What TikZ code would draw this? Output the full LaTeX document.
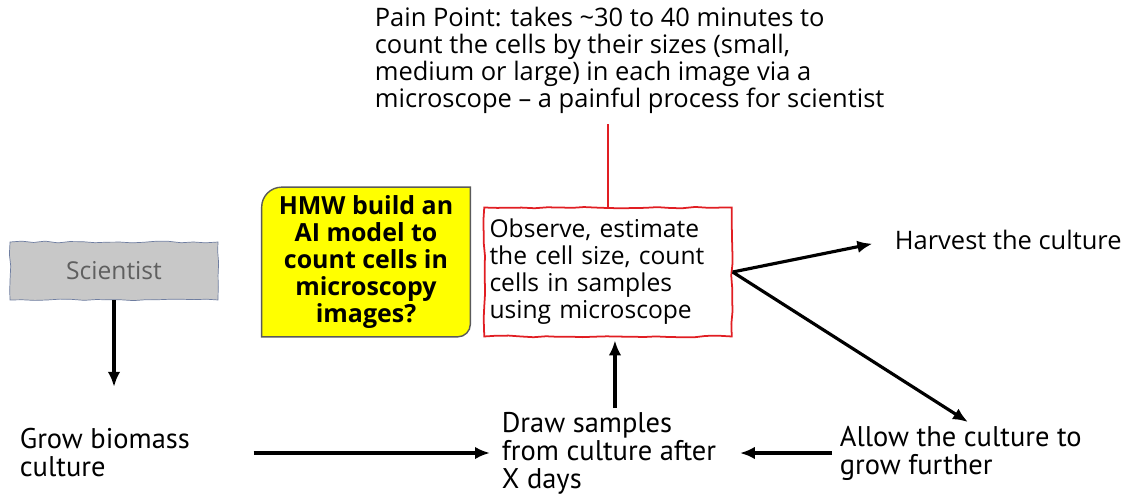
\documentclass[tikz,border=0pt]{standalone}
\usepackage{fontspec}
\setmainfont{Open Sans}
\newfontfamily\handfont{PT Sans}
\usetikzlibrary{arrows.meta,positioning,calc,backgrounds,decorations.pathmorphing}
\definecolor{sciblue}{RGB}{110,125,160}
\definecolor{scigray}{RGB}{200,200,200}
\definecolor{scitext}{RGB}{95,95,95}
\definecolor{painred}{RGB}{225,30,35}
\definecolor{hmwyellow}{RGB}{255,255,0}
\definecolor{hmwedge}{RGB}{90,90,90}
\tikzset{
  txt/.style={font=\fontsize{14.5}{15.4}\selectfont, align=left, inner sep=2pt},
  lowtxt/.style={font=\handfont\fontsize{16.2}{15.9}\selectfont, align=left, inner sep=2pt},
  wobbly/.style={decorate, decoration={random steps, segment length=7pt, amplitude=0.5pt}},
  parrow/.style={-{Latex[length=3mm,width=2.5mm]}, line width=1.8pt, black}
}
\pgfmathsetseed{7}
\begin{document}
\begin{tikzpicture}[x=0.02cm,y=-0.02cm]
        \useasboundingbox (0,0) rectangle (1126,500);
        \node[txt,anchor=north west] (pain) at (371,3) {Pain Point: takes \textasciitilde 30 to 40 minutes to\\count the cells by their sizes (small,\\medium or large) in each image via a\\microscope -- a painful process for scientist};
        \node[txt,font=\fontsize{14}{15.4}\selectfont,align=center,draw=sciblue,fill=scigray,text=scitext,minimum width=4.16cm,minimum height=1.16cm,wobbly] (sci) at (114,271) {Scientist};
        \node[txt,font=\bfseries\fontsize{14.2}{15.4}\selectfont,align=center,minimum width=4.16cm,minimum height=2.98cm] (hmw) at (366,262) {HMW build an\\AI model to\\count cells in\\microscopy\\images?};
        \node[txt,font=\fontsize{14}{15.4}\selectfont,draw=painred,line width=1pt,wobbly,text width=4.74cm,inner sep=3pt,minimum height=2.58cm] (obs) at (608,272) {Observe, estimate\\the cell size, count\\cells in samples\\using microscope};
        \node[txt,anchor=west] (harv) at (891,240) {Harvest the culture};
        \node[lowtxt,anchor=west] (grow) at (16,453) {Grow biomass\\culture};
        \node[lowtxt,anchor=west] (draw) at (498,453) {Draw samples\\from culture after\\X days};
        \node[lowtxt,anchor=west] (allow) at (836,453) {Allow the culture to\\grow further};
        \begin{scope}[on background layer]
          \draw[fill=hmwyellow,draw=hmwedge,line width=0.8pt] (hmw.north east) -- ([xshift=0.4cm]hmw.north west) arc[start angle=90,end angle=180,radius=0.4cm] -- (hmw.south west) -- ([xshift=-0.25cm]hmw.south east) arc[start angle=270,end angle=360,radius=0.25cm] -- cycle;
        \end{scope}
        \draw[painred,line width=1.2pt,shorten >=0.14cm](obs.north)--(obs.north |- pain.south);
        \draw[parrow,shorten >=0.76cm](sci.south)--(sci.south |- grow.north);
        \draw[parrow,shorten <=1.2cm,shorten >=0.16cm](grow.east)--(draw.west);
        \draw[parrow,shorten >=0.06cm]([xshift=2.34cm]draw.north west)--([xshift=2.34cm]draw.north west |- obs.south);
        \draw[parrow,shorten <=0.08cm,shorten >=0.4cm](allow.west)--(draw.east);
        \draw[parrow,shorten >=0.38cm](obs.east)--(harv.west);
        \draw[parrow](obs.east)--([xshift=2.64cm]allow.north west);
      \end{tikzpicture}
\end{document}
